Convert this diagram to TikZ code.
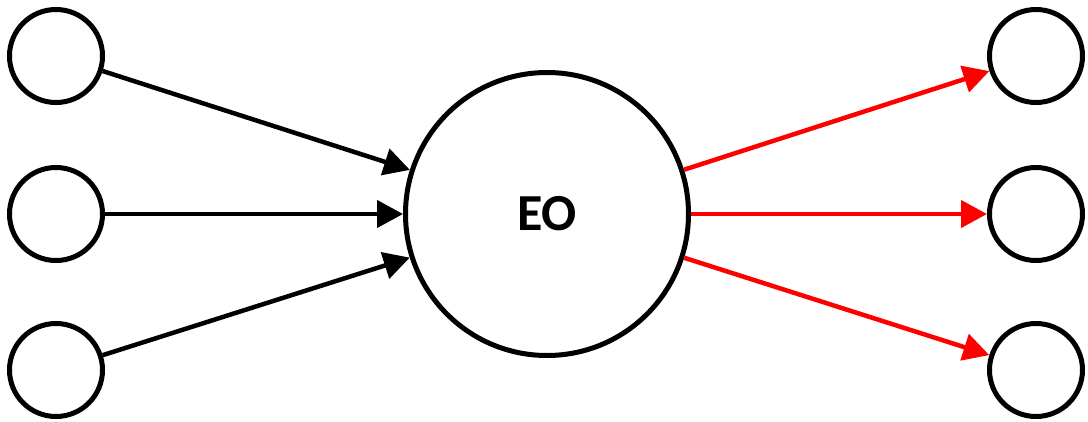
\documentclass[tikz,border=0pt]{standalone}
\usepackage{fontspec}
\setmainfont{Carlito}
\usetikzlibrary{arrows.meta}
\begin{document}
\begin{tikzpicture}[x=1pt,y=-1pt,
  small/.style={circle,draw,line width=5pt,minimum size=93pt,inner sep=0pt},
  big/.style={circle,draw,line width=5pt,minimum size=283pt,inner sep=0pt,font=\fontsize{52}{52}\selectfont\bfseries},
  inarr/.style={line width=4.5pt,-{Triangle[length=26pt,width=27pt]}},
  outarr/.style={inarr,red}]
\useasboundingbox (0,0) rectangle (1088,421);
\node[small] (l1) at (56,56) {};
\node[small] (l2) at (56,214) {};
\node[small] (l3) at (56,370) {};
\node[small] (r1) at (1036,56) {};
\node[small] (r2) at (1036,214) {};
\node[small] (r3) at (1036,370) {};
\node[big] (eo) at (547,214) {EO};
\draw[inarr] (l1) -- (eo);
\draw[inarr] (l2) -- (eo);
\draw[inarr] (l3) -- (eo);
\draw[outarr] (eo) -- (r1);
\draw[outarr] (eo) -- (r2);
\draw[outarr] (eo) -- (r3);
\end{tikzpicture}
\end{document}
